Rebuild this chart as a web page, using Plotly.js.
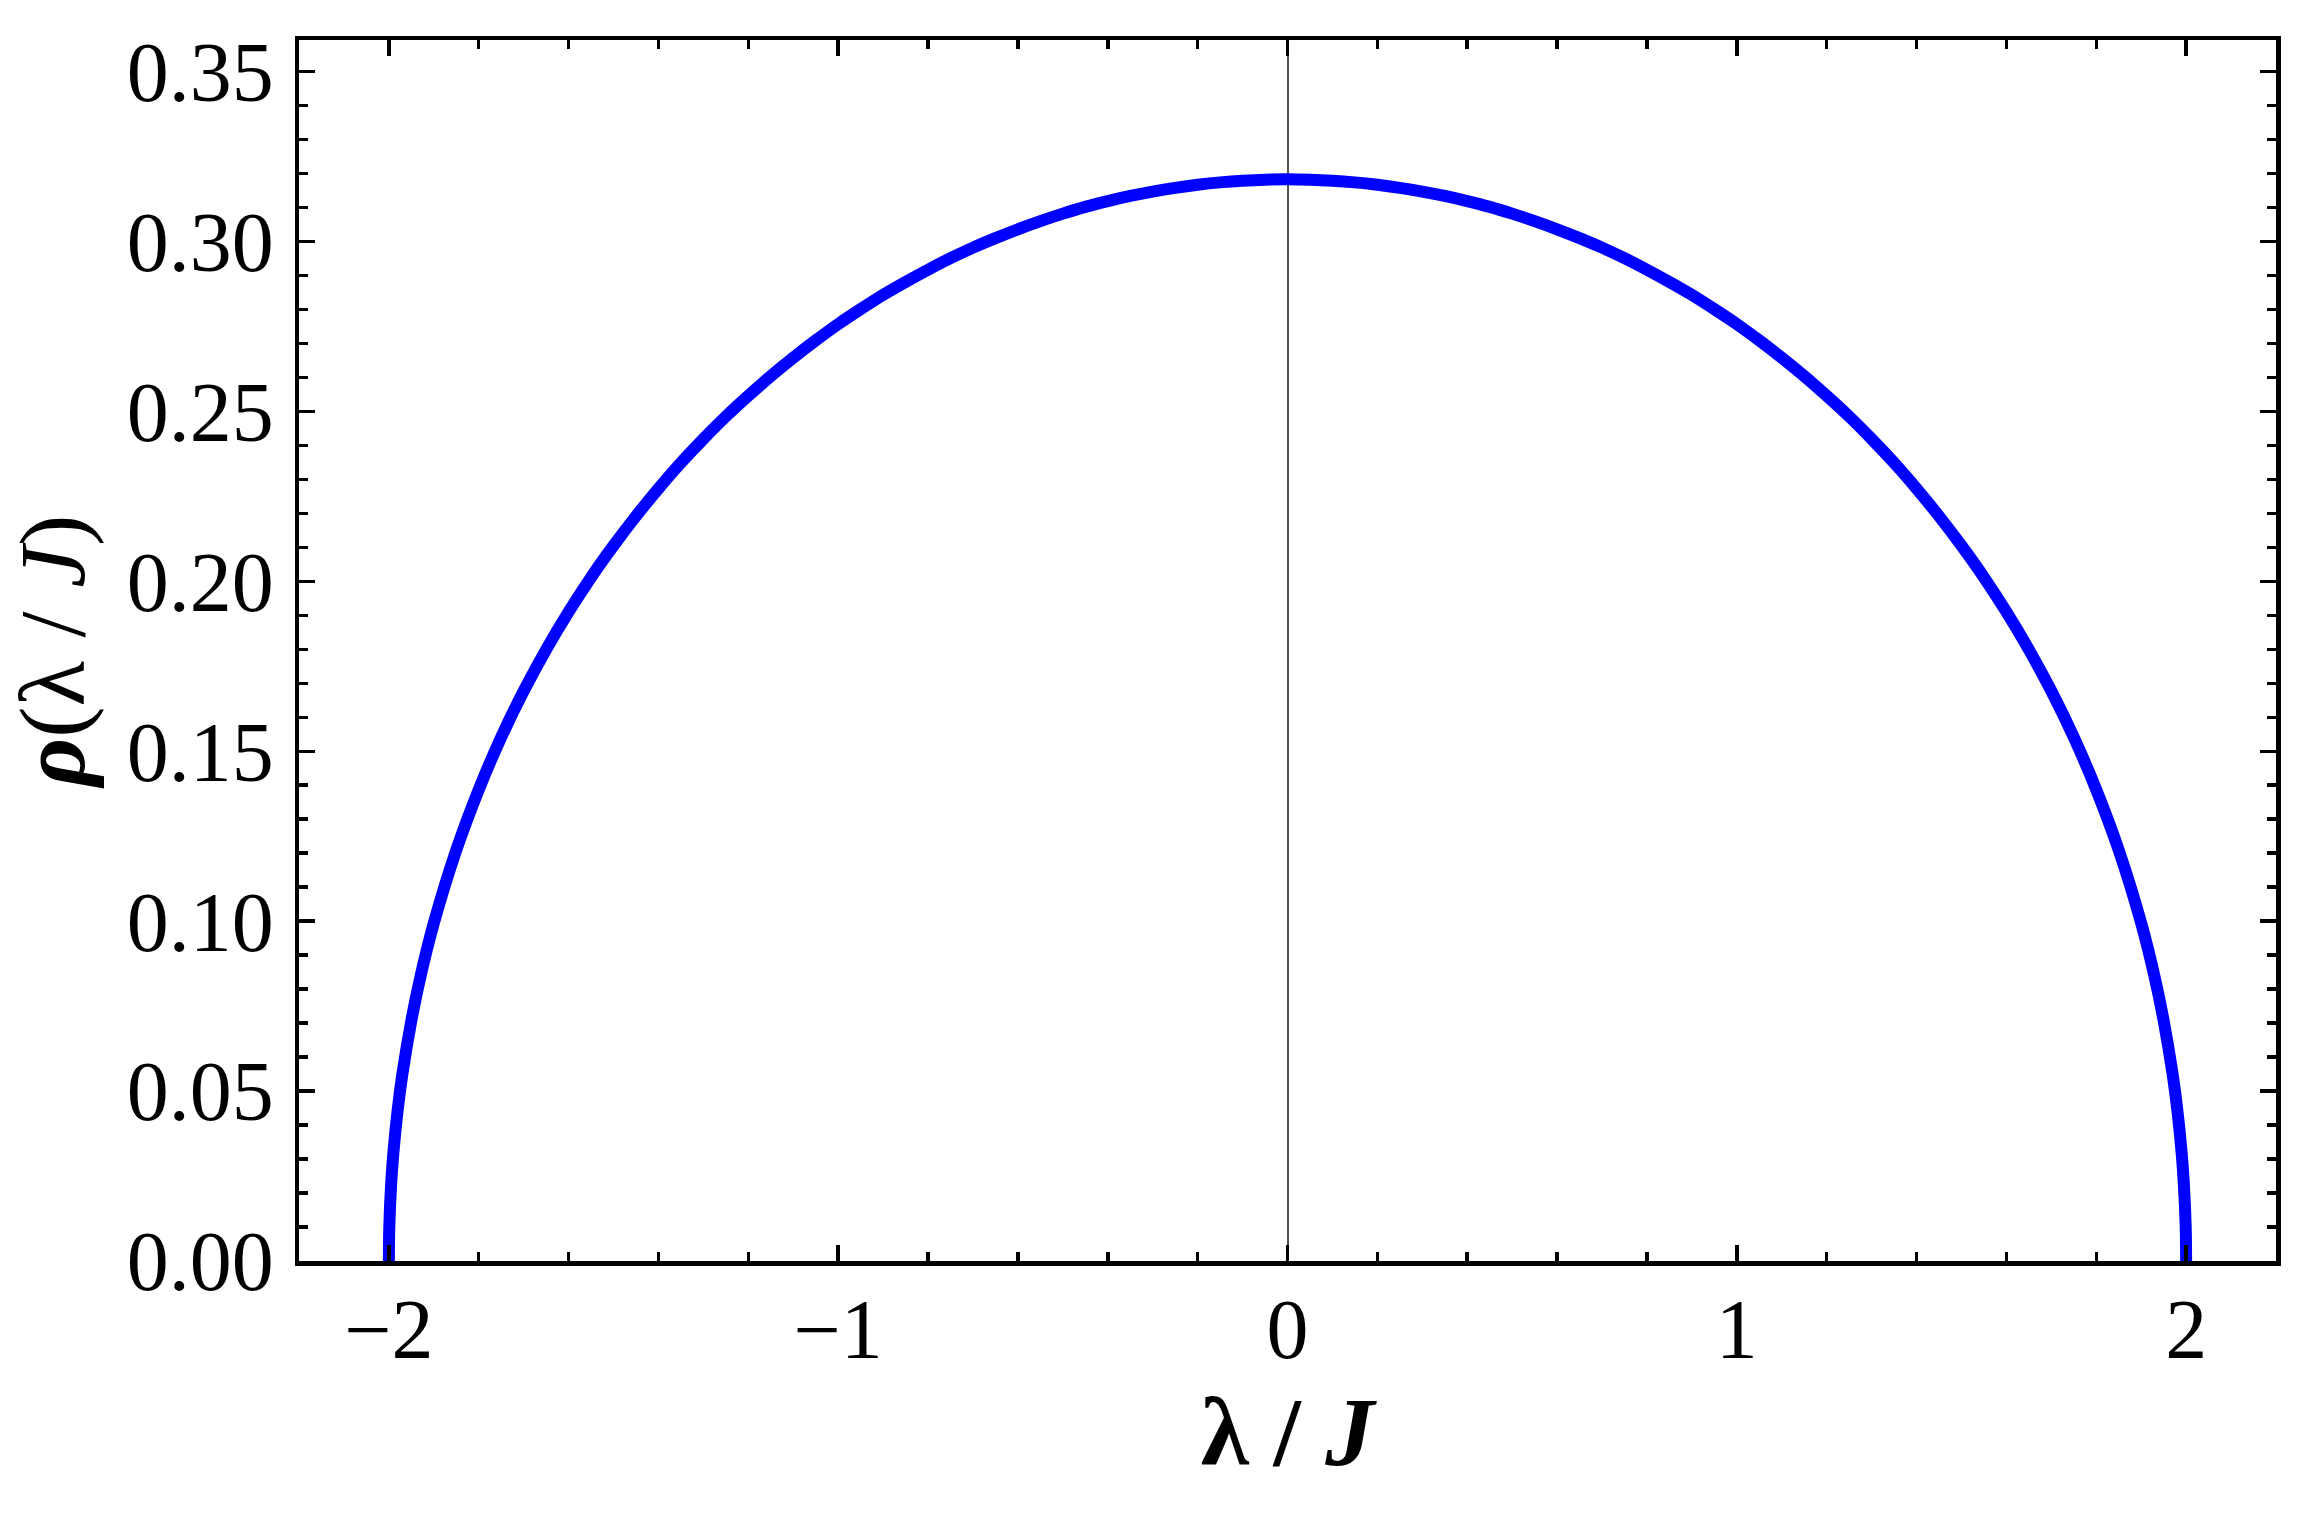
<!DOCTYPE html>
<html>
<head>
<meta charset="utf-8">
<script src="https://cdn.plot.ly/plotly-3.0.1.min.js"></script>
<style>html,body{margin:0;padding:0;background:#fff;}#chart{width:2320px;height:1516px;}</style>
</head>
<body>
<div id="chart"></div>
<script>
// Values (density vs lambda/J)
const lambdaJ = [-2.0, -1.999, -1.995, -1.99, -1.98, -1.97, -1.95, -1.93, -1.9, -1.85, -1.8, -1.75, -1.7, -1.65, -1.6, -1.55, -1.5, -1.45, -1.4, -1.35, -1.3, -1.25, -1.2, -1.15, -1.1, -1.05, -1.0, -0.95, -0.9, -0.85, -0.8, -0.75, -0.7, -0.65, -0.6, -0.55, -0.5, -0.45, -0.4, -0.35, -0.3, -0.25, -0.2, -0.15, -0.1, -0.05, 0.0,
  0.05, 0.1, 0.15, 0.2, 0.25, 0.3, 0.35, 0.4, 0.45, 0.5, 0.55, 0.6, 0.65, 0.7, 0.75, 0.8, 0.85, 0.9, 0.95, 1.0, 1.05, 1.1, 1.15, 1.2, 1.25, 1.3, 1.35, 1.4, 1.45, 1.5, 1.55, 1.6, 1.65, 1.7, 1.75, 1.8, 1.85, 1.9, 1.93, 1.95, 1.97, 1.98, 1.99, 1.995, 1.999, 2.0];
const rho = [0.0, 0.0101, 0.0225, 0.0318, 0.0449, 0.0549, 0.0707, 0.0835, 0.0994, 0.1209, 0.1387, 0.1541, 0.1677, 0.1799, 0.1910, 0.2012, 0.2105, 0.2192, 0.2273, 0.2349, 0.2419, 0.2485, 0.2546, 0.2604, 0.2658, 0.2709, 0.2757, 0.2801, 0.2843, 0.2881, 0.2917, 0.2951, 0.2982, 0.3010, 0.3036, 0.3060, 0.3082, 0.3102, 0.3119, 0.3134, 0.3147, 0.3158, 0.3167, 0.3174, 0.3179, 0.3182, 0.3183,
  0.3182, 0.3179, 0.3174, 0.3167, 0.3158, 0.3147, 0.3134, 0.3119, 0.3102, 0.3082, 0.3060, 0.3036, 0.3010, 0.2982, 0.2951, 0.2917, 0.2881, 0.2843, 0.2801, 0.2757, 0.2709, 0.2658, 0.2604, 0.2546, 0.2485, 0.2419, 0.2349, 0.2273, 0.2192, 0.2105, 0.2012, 0.1910, 0.1799, 0.1677, 0.1541, 0.1387, 0.1209, 0.0994, 0.0835, 0.0707, 0.0549, 0.0449, 0.0318, 0.0225, 0.0101, 0.0];

const xTickVals = [-2, -1, 0, 1, 2];
const yTickVals = [0.00, 0.05, 0.10, 0.15, 0.20, 0.25, 0.30, 0.35];
const yTickText = ['0.00', '0.05', '0.10', '0.15', '0.20', '0.25', '0.30', '0.35'];
const xTitle = '<b>λ / <i>J</i></b>';
const yTitle = '<b><i>ρ</i></b>(λ / <i>J</i>)';

const FONT = 'Liberation Serif, Times New Roman, serif';

const trace = {
  x: lambdaJ, y: rho, type: 'scatter', mode: 'lines',
  line: {color: '#0000ff', width: 12, shape: 'spline', smoothing: 0.8},
  hoverinfo: 'skip', showlegend: false
};

const axisCommon = {
  showgrid: false,
  showline: true, linecolor: '#000', linewidth: 4.5,
  mirror: 'allticks',
  ticks: 'inside', ticklen: 16, tickwidth: 3.5, tickcolor: '#000',
  tickfont: {family: FONT, size: 84, color: '#000'},
  fixedrange: true
};

const layout = {
  width: 2320, height: 1516,
  margin: {l: 299, r: 44, t: 40, b: 255, pad: 0},
  paper_bgcolor: '#fff', plot_bgcolor: '#fff',
  font: {family: FONT, color: '#000'},
  xaxis: Object.assign({}, axisCommon, {
    range: [-2.2, 2.2],
    tickmode: 'array', tickvals: xTickVals,
    minor: {dtick: 0.2, tick0: 0, ticks: 'inside', ticklen: 9, tickwidth: 3.5, tickcolor: '#000', showgrid: false},
    zeroline: true, zerolinecolor: '#555', zerolinewidth: 2,
    ticklabelstandoff: -8,
    title: {text: xTitle, font: {family: FONT, size: 98, color: '#000'}, standoff: 22}
  }),
  yaxis: Object.assign({}, axisCommon, {
    range: [0, 0.3593],
    tickmode: 'array', tickvals: yTickVals, ticktext: yTickText,
    minor: {dtick: 0.01, tick0: 0, ticks: 'inside', ticklen: 9, tickwidth: 3.5, tickcolor: '#000', showgrid: false},
    zeroline: false,
    ticklabelstandoff: 4,
    title: {text: yTitle, font: {family: FONT, size: 94, color: '#000'}, standoff: 14}
  })
};

Plotly.newPlot('chart', [trace], layout, {displayModeBar: false, staticPlot: true});
</script>
</body>
</html>
